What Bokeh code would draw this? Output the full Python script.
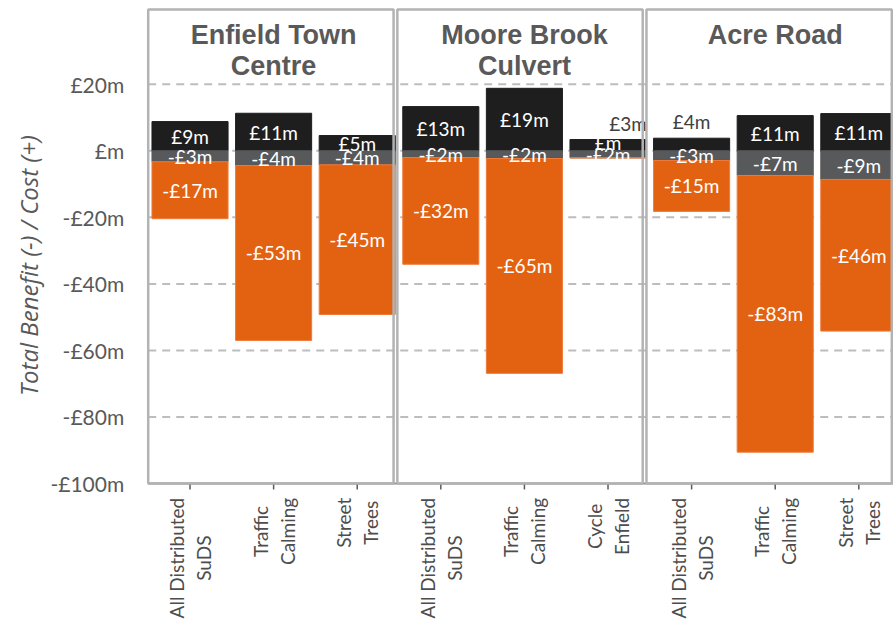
import math
from bokeh.plotting import figure
from bokeh.models import FixedTicker, Range1d
from bokeh.core.properties import value
from bokeh.embed import file_html
from bokeh.resources import INLINE

# ---------------- data ----------------
groups = ["Enfield Town\nCentre", "Moore Brook\nCulvert", "Acre Road"]
categories = ["All Distributed\nSuDS", "Traffic\nCalming", "Street\nTrees",
              "All Distributed\nSuDS", "Traffic\nCalming", "Cycle\nEnfield",
              "All Distributed\nSuDS", "Traffic\nCalming", "Street\nTrees"]
group_of = [0, 0, 0, 1, 1, 1, 2, 2, 2]
cost = [8.8, 11.3, 4.6, 13.3, 18.8, 3.4, 3.8, 10.6, 11.2]          # black (+)
benefit_grey = [-3.3, -4.4, -4.2, -2.0, -2.3, -2.1, -2.9, -7.4, -8.6]
benefit_orange = [-17.1, -52.6, -45.0, -32.1, -64.6, 0.0, -15.3, -83.2, -45.6]
y_ticks = [20, 0, -20, -40, -60, -80, -100]
y_title = "Total Benefit (-) / Cost (+)"

BLACK, GREY, ORANGE = "#1e1e1e", "#58595b", "#e36211"
TXT = "#595959"


def money(v):
    r = int(round(abs(v)))
    return ("-" if (v < 0 and r != 0) else "") + "£" + ("" if r == 0 else str(r)) + "m"


xs = [i + 0.5 for i in range(len(categories))]
X0, X1 = -1.767, 8.915
Y0, Y1 = -141.5, 45.2
YMIN = min(y_ticks)
PX_PER_Y = 621 / (Y1 - Y0)

p = figure(width=893, height=621, output_backend="svg", toolbar_location=None,
           x_range=Range1d(X0, X1), y_range=Range1d(Y0, Y1),
           min_border_left=0, min_border_right=0, min_border_top=0,
           min_border_bottom=0)
p.outline_line_color = None
p.xgrid.visible = False
p.ygrid.visible = False
p.xaxis.visible = False

# dashed grid lines (only across the chart area)
grid_y = [t for t in y_ticks if t > YMIN]
p.segment(x0=[0] * len(grid_y), x1=[X1] * len(grid_y), y0=grid_y, y1=grid_y,
          line_color="#bdbdbd", line_width=2, line_dash="8 6")

# y axis, drawn at x = 0
p.yaxis.fixed_location = 0
p.yaxis.ticker = FixedTicker(ticks=y_ticks)
p.yaxis.major_label_overrides = {t: money(t) for t in y_ticks}
p.yaxis.axis_line_color = None
p.yaxis.major_tick_line_color = None
p.yaxis.minor_tick_line_color = None
p.yaxis.major_label_standoff = 18
p.yaxis.major_label_text_font = "Lato"
p.yaxis.major_label_text_font_size = "21px"
p.yaxis.major_label_text_color = TXT

# category axis line and tick marks at y = -100
tick_len = 6 / PX_PER_Y
p.segment(x0=[0], x1=[X1], y0=[YMIN], y1=[YMIN], line_color="#8c8c8c", line_width=2)
p.segment(x0=xs, x1=xs, y0=[YMIN] * len(xs), y1=[YMIN - tick_len] * len(xs),
          line_color="#595959", line_width=1.5)

# stacked bars
grey_bottom = [g + o for g, o in zip(benefit_grey, benefit_orange)]
zero = [0] * len(xs)
W = 0.91
p.vbar(x=xs, width=W, bottom=zero, top=cost, fill_color=BLACK, line_color=BLACK)
p.vbar(x=xs, width=W, bottom=benefit_grey, top=zero, fill_color=GREY, line_color=GREY)
p.vbar(x=xs, width=W, bottom=grey_bottom, top=benefit_grey,
       fill_color=ORANGE, line_color="#ef7a3a", line_width=1)

# bar labels
lx, ly, lt, lc = [], [], [], []
for i, x in enumerate(xs):
    c, g, o = cost[i], benefit_grey[i], benefit_orange[i]
    if c >= 4.5:
        lx.append(x); ly.append(c / 2); lc.append("white")
    else:
        lx.append(x + (0.24 if o == 0 else 0)); ly.append(c + 4.9); lc.append("#404040")
    lt.append(money(c))
    lx.append(x); ly.append(g / 2); lt.append(money(g)); lc.append("white")
    lx.append(x); ly.append(g + o / 2 if o != 0 else c * 0.75)
    lt.append(money(o)); lc.append("white")
p.text(x=lx, y=ly, text=lt, text_color=lc, text_font=value("Lato"),
       text_font_size="19px", text_align="center", text_baseline="middle")

# panels
pl = [3 * g - 0.02 * g for g in range(len(groups))]
pr = [l + 2.935 for l in pl]
p.quad(left=pl, right=pr, top=[42.5] * 3, bottom=[YMIN] * 3,
       fill_color=None, line_color="#b3b3b3", line_width=2.5)

# panel titles (centred over each group's middle category)
tx = []
for g in range(len(groups)):
    members = [xs[i] for i in range(len(xs)) if group_of[i] == g]
    tx.append(sum(members) / len(members))
p.text(x=tx, y=[39.4] * 3, text=groups, text_color=TXT,
       text_font=value("Liberation Sans"), text_font_style="bold",
       text_font_size="27px", text_align="center", text_baseline="top",
       text_line_height=1.05)

# category labels (rotated, lines centred, top aligned just under the axis)
p.text(x=xs, y=[YMIN - 4.3] * len(xs), text=categories, angle=math.pi / 2,
       anchor=value("center_right"), text_align="center",
       text_font=value("Lato"), text_font_size="19px",
       text_color="#4d4d4d", text_line_height=1.17)

# y axis title
p.text(x=[-1.432], y=[-34.5], text=[y_title], angle=math.pi / 2,
       text_align="center", text_baseline="middle",
       text_font=value("Open Sans"), text_font_style="italic",
       text_font_size="24px", text_color=TXT)

open("out.html", "w").write(file_html(p, INLINE))
